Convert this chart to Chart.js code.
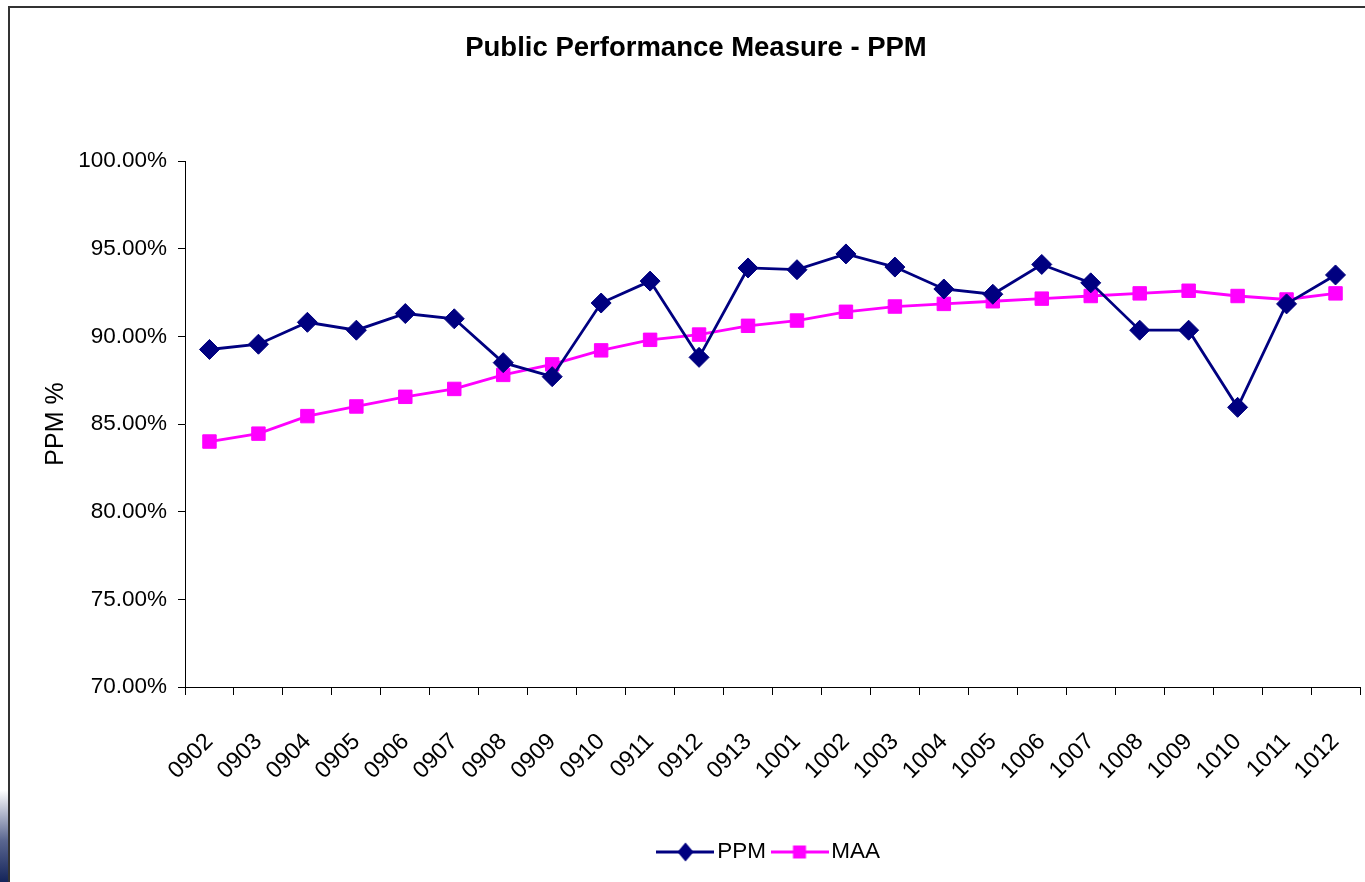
<!DOCTYPE html>
<html>
<head>
<meta charset="utf-8">
<script src="https://cdn.jsdelivr.net/npm/chart.js@4/dist/chart.umd.min.js"></script>
<style>
html,body{margin:0;padding:0;background:#fff;overflow:hidden}
#wrap{position:relative;width:1365px;height:882px}
</style>
</head>
<body>
<div id="wrap"><canvas id="c" width="1365" height="882"></canvas></div>
<script>
const categories = ['0902','0903','0904','0905','0906','0907','0908','0909','0910','0911','0912','0913',
                    '1001','1002','1003','1004','1005','1006','1007','1008','1009','1010','1011','1012'];
const ppmValues = [89.25, 89.55, 90.8, 90.35, 91.3, 91.0, 88.5, 87.7, 91.9, 93.15, 88.8, 93.9,
                   93.8, 94.7, 93.95, 92.7, 92.4, 94.1, 93.05, 90.35, 90.35, 85.95, 91.85, 93.5];
const maaValues = [84.0, 84.45, 85.45, 86.0, 86.55, 87.0, 87.8, 88.4, 89.2, 89.8, 90.1, 90.6,
                   90.9, 91.4, 91.7, 91.85, 92.0, 92.15, 92.3, 92.45, 92.6, 92.3, 92.1, 92.45];
const yTickValues = [70, 75, 80, 85, 90, 95, 100];
const seriesNames = ['PPM', 'MAA'];

const REG = "'Liberation Sans', Arial, sans-serif";
const PPM_COLOR = '#000080';
const MAA_COLOR = '#FF00FF';

function makeIcon(color, style) {
  const cv = document.createElement('canvas');
  cv.width = 58; cv.height = 24;
  const g = cv.getContext('2d');
  g.strokeStyle = color; g.lineWidth = 2.8;
  g.beginPath(); g.moveTo(0, 12); g.lineTo(58, 12); g.stroke();
  g.fillStyle = color;
  g.beginPath();
  if (style === 'diamond') {
    g.moveTo(29, 2.5); g.lineTo(37, 12); g.lineTo(29, 21.5); g.lineTo(21, 12); g.closePath();
  } else {
    g.rect(22.5, 5.5, 13, 13);
  }
  g.fill();
  return cv;
}
const icons = [makeIcon(PPM_COLOR, 'diamond'), makeIcon(MAA_COLOR, 'square')];

const framePlugin = {
  id: 'frame',
  beforeDraw(chart) {
    const ctx = chart.ctx;
    ctx.save();
    ctx.fillStyle = '#fff';
    ctx.fillRect(0, 0, chart.width, chart.height);
    const grad = ctx.createLinearGradient(0, 790, 0, 882);
    grad.addColorStop(0, '#ffffff');
    grad.addColorStop(0.55, '#5a6690');
    grad.addColorStop(1, '#14245a');
    ctx.fillStyle = grad;
    ctx.fillRect(0, 790, 8, 92);
    ctx.strokeStyle = '#333';
    ctx.lineWidth = 2;
    ctx.beginPath();
    ctx.moveTo(9, 882); ctx.lineTo(9, 7); ctx.lineTo(1365, 7);
    ctx.stroke();
    ctx.restore();
  }
};

new Chart(document.getElementById('c'), {
  type: 'line',
  data: {
    labels: categories,
    datasets: [
      {
        label: seriesNames[0], data: ppmValues,
        borderColor: PPM_COLOR, backgroundColor: PPM_COLOR, borderWidth: 2.8,
        pointStyle: 'rectRot', pointRadius: 10, pointBackgroundColor: PPM_COLOR,
        pointBorderColor: PPM_COLOR, pointBorderWidth: 1, tension: 0
      },
      {
        label: seriesNames[1], data: maaValues,
        borderColor: MAA_COLOR, backgroundColor: MAA_COLOR, borderWidth: 2.8,
        pointStyle: 'rect', pointRadius: 9.5, pointBackgroundColor: MAA_COLOR,
        pointBorderColor: MAA_COLOR, pointBorderWidth: 1, tension: 0
      }
    ]
  },
  options: {
    responsive: false,
    animation: false,
    devicePixelRatio: 1,
    layout: { autoPadding: false, padding: { left: 32, right: 5, top: 0, bottom: 8.75 } },
    plugins: {
      tooltip: { enabled: false },
      title: {
        display: true,
        text: 'Public Performance Measure - PPM',
        color: '#000',
        font: { family: REG, size: 27.5, weight: 'bold', lineHeight: 1.2 },
        padding: { top: 31.5, bottom: 96.5 }
      },
      legend: {
        display: true,
        position: 'bottom',
        fullSize: false,
        labels: {
          color: '#000',
          font: { family: REG, size: 22.5 },
          usePointStyle: true,
          pointStyleWidth: 41,
          padding: 13,
          generateLabels(chart) {
            const items = Chart.defaults.plugins.legend.labels.generateLabels(chart);
            items.forEach((it, i) => { it.pointStyle = icons[i]; });
            return items;
          }
        }
      }
    },
    scales: {
      x: {
        offset: true,
        grid: { offset: true, drawOnChartArea: false, tickLength: 8, color: '#000', lineWidth: 1 },
        border: { color: '#000', width: 1 },
        ticks: { autoSkip: false, maxRotation: 45, minRotation: 45, padding: 33,
                 color: '#000', font: { family: REG, size: 23.5 } },
        afterFit(scale) { scale.height = 140.75; scale.paddingRight = 0; }
      },
      y: {
        min: 70, max: 100,
        afterBuildTicks(scale) { scale.ticks = yTickValues.map(v => ({ value: v })); },
        grid: { drawOnChartArea: false, tickLength: 7, color: '#000', lineWidth: 1 },
        border: { color: '#000', width: 1 },
        ticks: { padding: 11, color: '#000', font: { family: REG, size: 22.5 },
                 callback: v => Number(v).toFixed(2) + '%' },
        title: { display: true, text: 'PPM %', color: '#000',
                 font: { family: REG, size: 25, lineHeight: 1.2 }, padding: { top: 9, bottom: 0 } },
        afterFit(scale) { scale.width = 153; }
      }
    }
  },
  plugins: [framePlugin]
});
</script>
</body>
</html>
